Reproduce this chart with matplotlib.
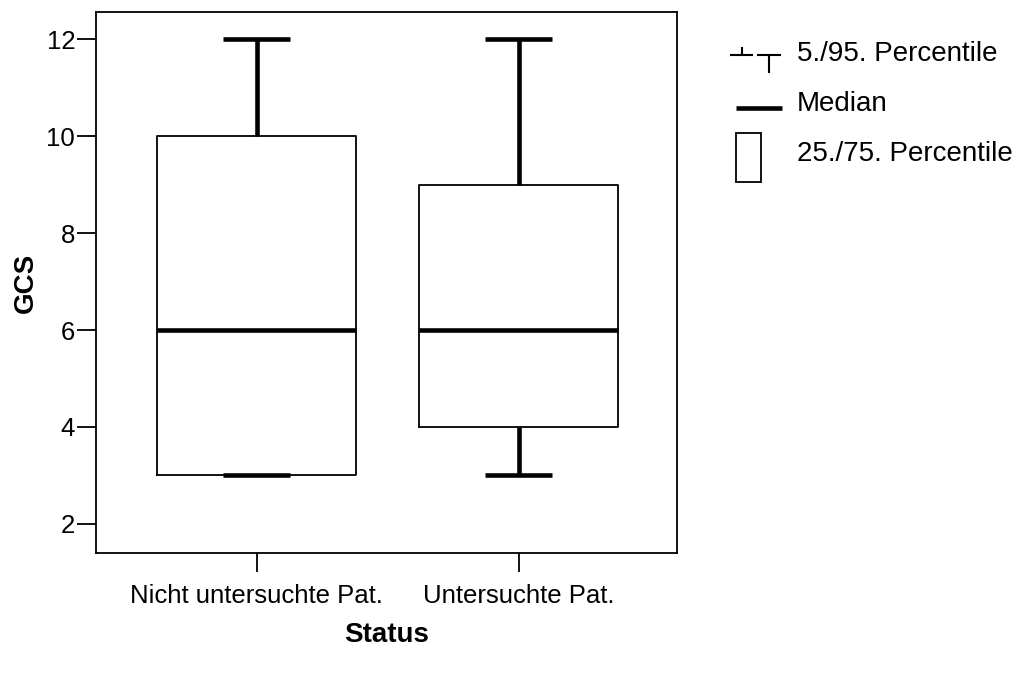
import matplotlib.pyplot as plt
from matplotlib.lines import Line2D
from matplotlib.patches import Rectangle

plt.rcParams['font.family'] = ['Liberation Sans', 'DejaVu Sans']
plt.rcParams['font.size'] = 18

# Data (GCS by status)
groups = ['Nicht untersuchte Pat.', 'Untersuchte Pat.']
p5 = [3, 3]
q1 = [3, 4]
median = [6, 6]
q3 = [10, 9]
p95 = [12, 12]
y_ticks = [2, 4, 6, 8, 10, 12]

stats = []
for i, name in enumerate(groups):
    stats.append(dict(label=name, whislo=p5[i], q1=q1[i], med=median[i],
                      q3=q3[i], whishi=p95[i], fliers=[]))

fig = plt.figure(figsize=(10.29, 6.75), dpi=100)
ax = fig.add_axes([96 / 1029, 1 - 553 / 675, 581 / 1029, 541 / 675])

ax.bxp(stats, positions=[1, 2], widths=0.76, capwidths=0.255,
       showfliers=False,
       boxprops=dict(color='black', linewidth=1.3),
       whiskerprops=dict(color='black', linewidth=3.3, solid_capstyle='butt'),
       capprops=dict(color='black', linewidth=3.3, solid_capstyle='butt'),
       medianprops=dict(color='black', linewidth=3.3, solid_capstyle='butt'))

ax.set_xlim(0.387, 2.605)
ax.set_ylim(1.4, 12.56)
ax.set_yticks(y_ticks)
ax.set_xticks([1, 2])
ax.set_xticklabels(groups)
ax.tick_params(axis='both', direction='out', length=14, width=1.3, labelsize=18.5)
ax.tick_params(axis='y', pad=1)
ax.tick_params(axis='x', pad=8)
for s in ax.spines.values():
    s.set_linewidth(1.3)

ax.set_ylabel('GCS', fontweight='bold', fontsize=20, va='center')
ax.yaxis.set_label_coords(-0.1205, 0.5)
fig.text(387 / 1029, 1 - 635 / 675, 'Status', fontweight='bold', fontsize=20,
         ha='center', va='center')

# Legend drawn in pixel space
ov = fig.add_axes([0, 0, 1, 1], zorder=5)
ov.set_xlim(0, 1029)
ov.set_ylim(675, 0)
ov.axis('off')
ov.patch.set_alpha(0)

lk = dict(color='black', linewidth=1.5)
ov.add_line(Line2D([731, 752], [55, 55], **lk))
ov.add_line(Line2D([741.5, 741.5], [48, 55], **lk))
ov.add_line(Line2D([758, 780], [55, 55], **lk))
ov.add_line(Line2D([769, 769], [55, 72], **lk))
ov.add_line(Line2D([736, 782], [108, 108], color='black', linewidth=3.3,
                   solid_capstyle='butt'))
ov.add_patch(Rectangle((736, 133), 25, 49, fill=False, edgecolor='black',
                       linewidth=1.3))

ov.text(797, 54, '5./95. Percentile', fontsize=20, va='center', ha='left')
ov.text(797, 104, 'Median', fontsize=20, va='center', ha='left')
ov.text(797, 154, '25./75. Percentile', fontsize=20, va='center', ha='left')

fig.savefig('out.png', dpi=100)
